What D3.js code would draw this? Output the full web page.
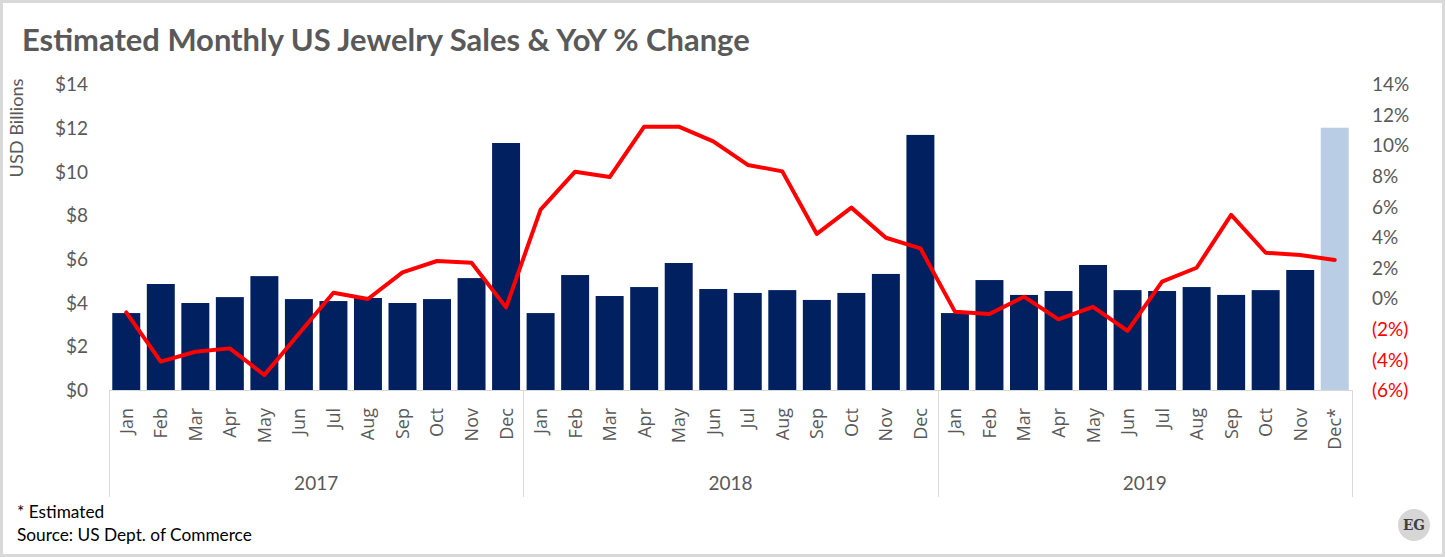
<!DOCTYPE html>
<html>
<head>
<meta charset="utf-8">
<script src="https://cdn.jsdelivr.net/npm/d3@7"></script>
<style>
  html, body { margin: 0; padding: 0; background: #ffffff; }
  svg { display: block; }
</style>
</head>
<body>
<svg id="chart" width="1445" height="557"></svg>
<script>
// ---------------- data ----------------
const years = ["2017", "2018", "2019"];
const months = ["Jan","Feb","Mar","Apr","May","Jun","Jul","Aug","Sep","Oct","Nov","Dec"];
const monthLabels2019 = ["Jan","Feb","Mar","Apr","May","Jun","Jul","Aug","Sep","Oct","Nov","Dec*"];
const sales2017 = [3.52, 4.85, 3.98, 4.25, 5.21, 4.16, 4.07, 4.21, 3.98, 4.16, 5.12, 11.30];
const sales2018 = [3.52, 5.26, 4.30, 4.71, 5.81, 4.62, 4.44, 4.57, 4.12, 4.44, 5.31, 11.67];
const sales2019 = [3.52, 5.03, 4.35, 4.53, 5.72, 4.57, 4.53, 4.71, 4.35, 4.57, 5.49, 12.00];
const yoy2017 = [-0.92, -4.15, -3.50, -3.28, -5.02, -2.32, 0.36, -0.05, 1.69, 2.43, 2.32, -0.60];
const yoy2018 = [5.79, 8.27, 7.92, 11.21, 11.21, 10.25, 8.71, 8.29, 4.20, 5.92, 3.95, 3.26];
const yoy2019 = [-0.88, -1.03, 0.10, -1.38, -0.56, -2.14, 1.08, 1.99, 5.44, 2.97, 2.82, 2.50];
const estimatedFlags = [false,false,false,false,false,false,false,false,false,false,false,true];
const leftTicks = [0, 2, 4, 6, 8, 10, 12, 14];
const rightTicks = [-6, -4, -2, 0, 2, 4, 6, 8, 10, 12, 14];

// ---------------- build rows ----------------
const rows = [];
[[sales2017, yoy2017, months, false], [sales2018, yoy2018, months, false], [sales2019, yoy2019, monthLabels2019, true]]
  .forEach(([s, p, labs, last], yi) => {
    s.forEach((v, i) => rows.push({
      key: yi * 12 + i, year: years[yi], label: labs[i], sales: v, yoy: p[i],
      est: last && estimatedFlags[i]
    }));
  });

const svg = d3.select("#chart");
const W = 1445, H = 557;
const plot = { left: 109, right: 1352, top: 84, bottom: 390 };

function fitWidth(sel, baseSize, target) {
  const w = sel.node().getComputedTextLength();
  sel.attr("font-size", baseSize * target / w);
}

// border
svg.append("rect").attr("x", 1.5).attr("y", 1.5).attr("width", W - 3).attr("height", H - 3)
  .attr("fill", "#ffffff").attr("stroke", "#D9D9D9").attr("stroke-width", 3);

// scales
const x = d3.scaleBand().domain(rows.map(d => d.key)).range([plot.left, plot.right])
  .paddingInner(0.19).paddingOuter(0.095);
const yL = d3.scaleLinear().domain([0, 14]).range([plot.bottom, plot.top]);
const yR = d3.scaleLinear().domain([-6, 14]).range([plot.bottom, plot.top]);

// title
const title = svg.append("text").attr("x", 22).attr("y", 51)
  .attr("font-family", "Lato, 'Open Sans', sans-serif").attr("font-weight", "bold")
  .attr("font-size", 28).attr("fill", "#595959")
  .text("Estimated Monthly US Jewelry Sales & YoY % Change");
fitWidth(title, 28, 728);

// left axis
const leftAxis = d3.axisLeft(yL).tickValues(leftTicks).tickSize(0).tickPadding(0)
  .tickFormat(d => "$" + d);
const gL = svg.append("g").attr("transform", "translate(88,0)").call(leftAxis);
gL.select(".domain").remove();
gL.selectAll("text").attr("font-family", "Lato, sans-serif").attr("font-size", 19)
  .attr("fill", "#595959").attr("x", 0).attr("dy", "0.35em");

// right axis
const fmtPct = d => d < 0 ? "(" + Math.abs(d) + "%)" : d + "%";
const rightAxis = d3.axisRight(yR).tickValues(rightTicks).tickSize(0).tickPadding(0)
  .tickFormat(fmtPct);
const gR = svg.append("g").attr("transform", "translate(1372,0)").call(rightAxis);
gR.select(".domain").remove();
gR.selectAll("text").attr("font-family", "Lato, sans-serif").attr("font-size", 19)
  .attr("x", 0).attr("dy", "0.35em")
  .attr("fill", d => d < 0 ? "#FF0000" : "#595959");

// y-axis title
const yTitle = svg.append("text").attr("transform", "translate(17,128) rotate(-90)")
  .attr("text-anchor", "middle").attr("dy", "0.35em").attr("font-family", "Lato, sans-serif")
  .attr("font-size", 16).attr("fill", "#595959").text("USD Billions");
fitWidth(yTitle, 16, 99);

// bars
svg.append("g").selectAll("rect").data(rows).join("rect")
  .attr("x", d => x(d.key)).attr("width", x.bandwidth())
  .attr("y", d => yL(d.sales)).attr("height", d => yL(0) - yL(d.sales))
  .attr("fill", d => d.est ? "#B9CDE5" : "#002060");

// category axis line and separators
svg.append("line").attr("x1", plot.left).attr("x2", plot.right)
  .attr("y1", plot.bottom + 0.5).attr("y2", plot.bottom + 0.5)
  .attr("stroke", "#D9D9D9").attr("stroke-width", 1);
const step = x.step();
const sepX = [0, 12, 24, 36].map(i => i === 36 ? plot.right : x(i) - x.paddingOuter() * step);
svg.append("g").selectAll("line").data(sepX).join("line")
  .attr("x1", d => Math.round(d) + 0.5).attr("x2", d => Math.round(d) + 0.5)
  .attr("y1", plot.bottom).attr("y2", 497)
  .attr("stroke", "#D9D9D9").attr("stroke-width", 1);

// month labels
svg.append("g").selectAll("text").data(rows).join("text")
  .attr("transform", d => `translate(${x(d.key) + x.bandwidth() / 2},408) rotate(-90)`)
  .attr("text-anchor", "end").attr("dy", "0.36em")
  .attr("font-family", "'Open Sans', sans-serif").attr("font-size", 18)
  .attr("fill", "#595959").text(d => d.label);

// year labels
svg.append("g").selectAll("text").data(years).join("text")
  .attr("x", (d, i) => (sepX[i] + sepX[i + 1]) / 2).attr("y", 483).attr("dy", "0.35em")
  .attr("text-anchor", "middle").attr("font-family", "Lato, sans-serif")
  .attr("font-size", 19).attr("fill", "#595959").text(d => d);

// YoY line
const line = d3.line().x(d => x(d.key) + x.bandwidth() / 2).y(d => yR(d.yoy));
svg.append("path").datum(rows).attr("d", line)
  .attr("fill", "none").attr("stroke", "#FF0000").attr("stroke-width", 4)
  .attr("stroke-linejoin", "round").attr("stroke-linecap", "round");

// footer
const f1 = svg.append("text").attr("x", 17).attr("y", 518).attr("font-family", "Lato, sans-serif")
  .attr("font-size", 16).attr("fill", "#000000").text("* Estimated");
const f2 = svg.append("text").attr("x", 17).attr("y", 541).attr("font-family", "Lato, sans-serif")
  .attr("font-size", 16).attr("fill", "#000000").text("Source: US Dept. of Commerce");
fitWidth(f2, 16, 235);
f1.attr("font-size", f2.attr("font-size"));

// logo
svg.append("circle").attr("cx", 1414).attr("cy", 525).attr("r", 16).attr("fill", "#D6D6D6");
svg.append("text").attr("x", 1414).attr("y", 525).attr("dy", "0.36em").attr("text-anchor", "middle")
  .attr("font-family", "'DejaVu Serif', serif").attr("font-weight", "bold")
  .attr("font-size", 14).attr("fill", "#404040").attr("textLength", 22)
  .attr("lengthAdjust", "spacingAndGlyphs").text("EG");
</script>
</body>
</html>
